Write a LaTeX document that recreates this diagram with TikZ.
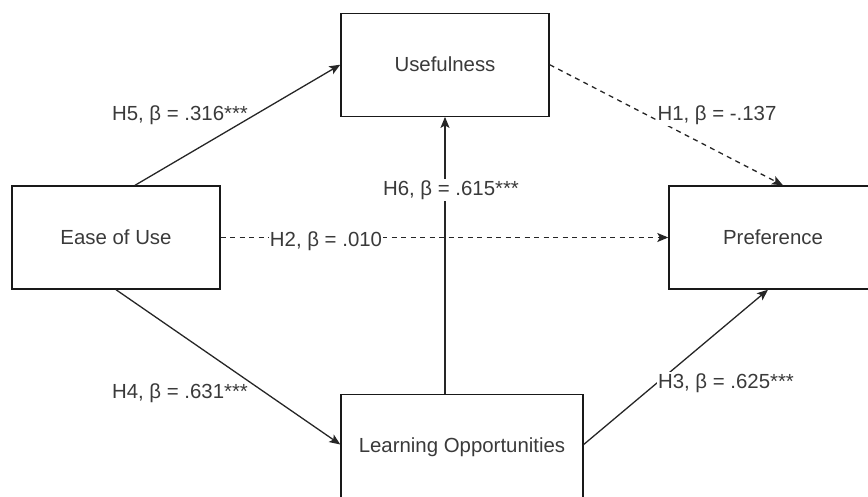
\documentclass[tikz,border=0pt]{standalone}
\usepackage{fontspec}
\setmainfont{Liberation Sans}
\usetikzlibrary{arrows.meta,calc}
\definecolor{inkgray}{HTML}{3A3A3A}
\begin{document}
\begin{tikzpicture}[x=1pt,y=-1pt,
  every node/.style={font=\fontsize{20.4}{24}\selectfont, text=inkgray},
  construct/.style={draw=black!90, line width=1.4pt, minimum height=103pt, inner sep=0pt},
  path/.style={line width=1.3pt, draw=black!85, -{Stealth[length=11pt,width=9pt,inset=2.5pt]}},
  weak/.style={path, dash pattern=on 5pt off 4.5pt},
  coef/.style={inner sep=1pt},
  coefmask/.style={coef, fill=white}]
  \useasboundingbox (0,0) rectangle (868,496);

  % constructs of the model
  \node[construct, minimum width=208pt] (use)   at (445,64.7)  {Usefulness};
  \node[construct, minimum width=208pt] (ease)  at (116,237.5) {Ease of Use};
  \node[construct, minimum width=208pt] (pref)  at (773,237.5) {Preference};
  \node[construct, minimum width=242pt, minimum height=106pt] (learn) at (462,447.5) {\raisebox{2pt}{Learning Opportunities}};

  % hypothesised paths
  \draw[path] ($(ease.north)+(19,0)$) -- (use.west);
  \draw[path] (ease.south) -- ($(learn.west)+(0,-3)$);
  \draw[weak] (ease.east) -- (pref.west);
  \draw[weak] (use.east) -- ($(pref.north)+(10,0)$);
  \draw[path] (use.south |- learn.north) -- (use.south);
  \draw[path] ($(learn.east)+(0,-3)$) -- ($(pref.south)+(-5,0)$);

  % standardised path coefficients
  \node[coef]     (h5) at (180,115) {H5, β = .316***};
  \node[coef]     (h4) at (180,393) {H4, β = .631***};
  \node[coefmask] (h2) at (326,241) {H2, β = .010};
  \node[coefmask] (h6) at (451,190) {H6, β = .615***};
  \node[coefmask] (h1) at (717,115) {H1, β = -.137};
  \node[coefmask] (h3) at (726,383) {H3, β = .625***};
\end{tikzpicture}
\end{document}
